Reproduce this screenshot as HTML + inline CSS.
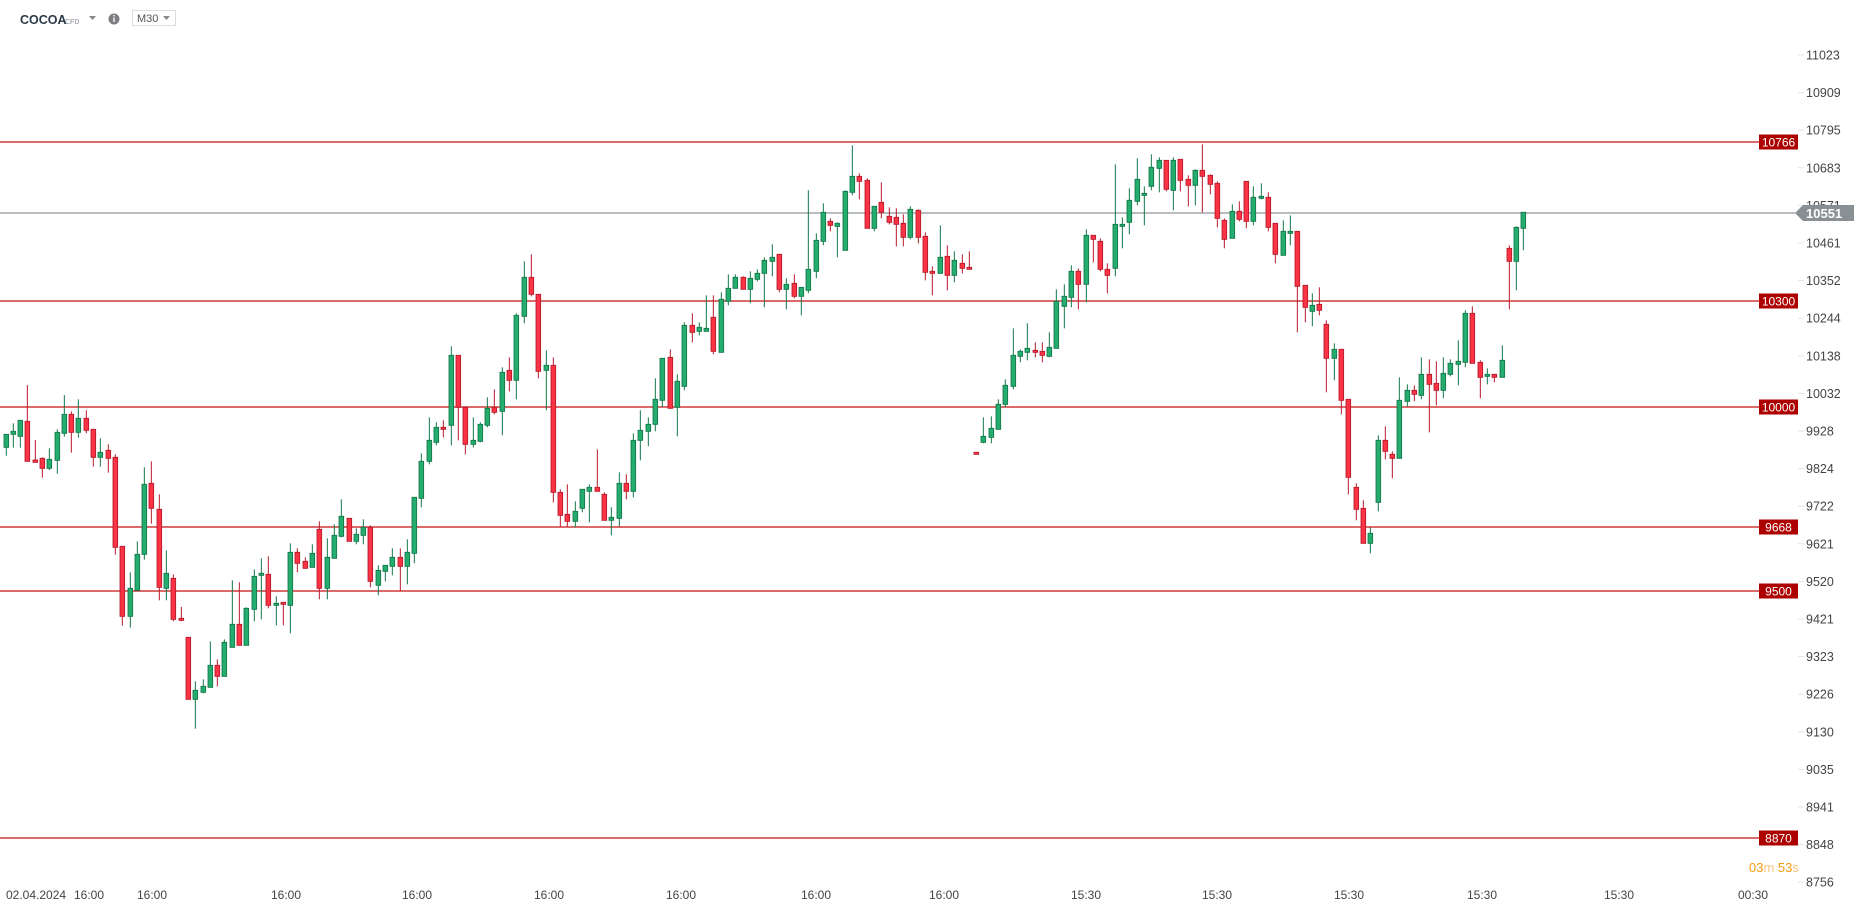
<!DOCTYPE html>
<html><head><meta charset="utf-8"><style>
html,body{margin:0;padding:0;background:#fff;overflow:hidden}
svg{display:block}
text{font-family:"Liberation Sans",sans-serif}
</style></head><body>
<svg id="s" width="1866" height="909" xmlns="http://www.w3.org/2000/svg">
<text x="20" y="24" font-size="12.5" font-weight="bold" fill="#2b3a48">COCOA</text>
<text x="65" y="24" font-size="7" fill="#8a9099">CFD</text>
<path d="M89 16h7l-3.5 4z" fill="#888"/>
<circle cx="114" cy="19" r="5.5" fill="#7d7f82"/>
<rect x="113.3" y="17.5" width="1.4" height="4.5" fill="#fff"/><rect x="113.3" y="15" width="1.4" height="1.4" fill="#fff"/>
<rect x="132.5" y="10.5" width="43" height="15" fill="#fff" stroke="#ddd"/>
<text x="137" y="22" font-size="11" fill="#555">M30</text>
<path d="M163 16h7l-3.5 4z" fill="#888"/>
<g id="ax"></g>
<g id="lines"></g>
<g id="c"></g>
<g id="lbl"></g>
<g font-size="12" fill="#444">
<text x="6" y="899">02.04.2024</text><text x="74" y="899">16:00</text>
<text x="152" y="899" text-anchor="middle">16:00</text>
<text x="286" y="899" text-anchor="middle">16:00</text>
<text x="417" y="899" text-anchor="middle">16:00</text>
<text x="549" y="899" text-anchor="middle">16:00</text>
<text x="681" y="899" text-anchor="middle">16:00</text>
<text x="816" y="899" text-anchor="middle">16:00</text>
<text x="944" y="899" text-anchor="middle">16:00</text>
<text x="1086" y="899" text-anchor="middle">15:30</text>
<text x="1217" y="899" text-anchor="middle">15:30</text>
<text x="1349" y="899" text-anchor="middle">15:30</text>
<text x="1482" y="899" text-anchor="middle">15:30</text>
<text x="1619" y="899" text-anchor="middle">15:30</text>
<text x="1753" y="899" text-anchor="middle">00:30</text>
</g>
<text x="1749" y="872" font-size="13" fill="#f39c12">03<tspan fill="#f7c27a">m</tspan> 53<tspan fill="#f7c27a">s</tspan></text>
</svg>
<script>
var NS="http://www.w3.org/2000/svg";
function el(p,t,a){var e=document.createElementNS(NS,t);for(var k in a)e.setAttribute(k,a[k]);p.appendChild(e);return e;}
var ax=document.getElementById('ax');
var vals=[11023,10909,10795,10683,10571,10461,10352,10244,10138,10032,9928,9824,9722,9621,9520,9421,9323,9226,9130,9035,8941,8848,8756];
vals.forEach(function(v,i){var y=55+i*37.6;el(ax,'line',{x1:1798,x2:1804,y1:y,y2:y,stroke:'#e3e3e3'});var t=el(ax,'text',{x:1806,y:y+4.5,'font-size':12.5,fill:'#444'});t.textContent=v;});
var L=document.getElementById('lines'),B=document.getElementById('lbl');
[[142,'10766'],[301,'10300'],[407,'10000'],[527,'9668'],[591,'9500'],[838,'8870']].forEach(function(a){
el(L,'line',{x1:0,x2:1760,y1:a[0],y2:a[0],stroke:'#c81010','stroke-width':1.2});
el(B,'rect',{x:1759,y:a[0]-7.5,width:39,height:15,fill:'#ad0000'});
var t=el(B,'text',{x:1778.5,y:a[0]+4.5,'font-size':12,fill:'#fff','text-anchor':'middle'});t.textContent=a[1];});
el(L,'line',{x1:0,x2:1795,y1:213,y2:213,stroke:'#8c9396','stroke-width':1.2});
el(B,'path',{d:'M1795 213l8-8h51v16h-51z',fill:'#889094'});
var t=el(B,'text',{x:1806,y:218,'font-size':13,fill:'#fff','font-weight':'bold'});t.textContent='10551';
var Z=[
[0,360,[[19,223,223,262,287,'g'],[40,190,214,223,263,'g'],[61,181,181,229,263,'g'],[82,75,184,304,304,'r'],[106,240,300,307,307,'r'],[127,292,295,325,353,'r'],[148,265,298,325,330,'g'],[172,208,217,301,341,'g'],[193,105,163,220,230,'g'],[214,154,163,217,278,'r'],[235,118,175,217,233,'g'],[259,151,175,211,220,'r'],[280,208,208,292,320,'r'],[301,235,277,292,320,'g'],[325,253,271,295,338,'r'],[346,283,292,562,584,'r'],[367,559,559,769,797,'r'],[391,637,685,769,803,'g'],[412,544,583,691,691,'g'],[433,322,373,583,599,'g'],[454,304,370,445,491,'r'],[478,403,448,682,721,'r'],[499,571,640,685,721,'g'],[520,643,655,778,784,'r'],[544,741,775,781,784,'r'],[565,832,832,1018,1018,'r'],[586,964,991,1018,1106,'g'],[610,958,979,997,1000,'g'],[631,844,916,982,982,'g'],[652,898,916,949,979,'r'],[673,838,847,949,949,'g'],[697,661,793,862,862,'g'],[718,667,793,856,856,'r'],[739,742,745,856,856,'g'],[763,628,649,748,784,'g'],[784,595,640,646,778,'g'],[805,589,643,736,745,'r'],[829,709,730,736,796,'g'],[850,727,727,733,796,'r'],[871,550,577,736,820,'g'],[892,565,577,610,637,'r']]],
[290,240,[[46,952,964,985,985,'r'],[67,913,940,982,982,'g'],[88,844,868,1045,1078,'r'],[112,895,952,1045,1078,'g'],[133,853,886,955,955,'g'],[154,778,829,889,892,'g'],[178,835,835,904,904,'r'],[199,865,883,904,913,'g'],[220,838,862,886,913,'g'],[241,856,862,1024,1042,'r'],[265,976,991,1036,1066,'g'],[286,976,976,994,1024,'g'],[307,925,952,979,1006,'g'],[331,925,952,979,1054,'r'],[352,898,937,979,1033,'g'],[373,772,772,940,970,'g'],[394,640,664,775,802,'g'],[418,532,601,664,673,'g'],[439,547,562,607,616,'g'],[460,541,562,568,592,'r'],[484,319,346,556,616,'g'],[505,346,346,502,601,'r'],[526,502,502,613,643,'r'],[550,532,601,613,622,'g'],[571,547,553,604,607,'g'],[592,472,505,556,562,'g'],[613,448,502,517,523,'r'],[637,382,397,514,586,'g'],[658,352,391,421,454,'r'],[679,220,226,421,478,'g'],[703,64,112,229,250,'g'],[724,43,112,163,169,'r'],[745,163,163,394,415,'r'],[769,331,376,391,511,'g'],[790,352,376,757,787,'r'],[811,748,757,826,859,'r'],[832,733,823,844,862,'r'],[856,784,814,844,862,'g']]],
[580,130,[[7,1078,1078,1135,1147,'g'],[28,1063,1072,1084,1177,'g'],[52,958,1072,1084,1084,'r'],[73,1087,1093,1171,1171,'r'],[94,1132,1162,1171,1216,'g'],[118,1027,1060,1165,1189,'g'],[139,1033,1060,1084,1108,'r'],[160,910,931,1084,1102,'g'],[181,841,901,931,991,'g'],[205,862,883,904,949,'g'],[226,745,808,883,904,'g'],[247,685,685,811,832,'g'],[271,658,682,835,835,'r'],[292,733,754,832,919,'g'],[313,577,586,769,781,'g'],[337,550,586,607,637,'r'],[358,577,592,604,616,'g'],[379,496,595,604,604,'g'],[400,496,562,664,673,'r'],[424,487,508,667,667,'g'],[445,433,475,514,526,'g'],[466,433,442,475,475,'g'],[490,439,442,478,478,'r'],[511,424,445,478,520,'g'],[532,418,430,448,454,'g'],[553,382,391,430,532,'g'],[577,343,382,394,439,'g'],[598,373,373,478,487,'r'],[619,445,463,478,538,'g'],[643,433,460,499,505,'r'],[664,472,472,499,556,'g'],[685,181,418,481,490,'g'],[709,310,331,424,445,'g'],[730,220,247,334,346,'g'],[751,265,274,286,304,'r'],[772,277,280,289,382,'g'],[796,181,184,361,361,'g'],[817,46,139,187,196,'g'],[838,130,139,154,208,'r'],[862,145,151,295,295,'r']]],
[870,130,[[13,229,229,295,304,'g'],[34,157,217,247,265,'r'],[58,232,259,277,283,'r'],[79,235,262,283,349,'r'],[100,253,280,322,349,'r'],[121,229,238,322,328,'g'],[145,238,241,322,340,'r'],[166,307,319,427,451,'r'],[187,409,424,430,496,'r'],[211,286,382,430,430,'g'],[232,346,379,436,481,'r'],[253,364,391,436,457,'g'],[277,373,400,415,430,'r'],[298,364,412,418,418,'r'],[319,967,967,973,973,'r'],[340,862,919,937,940,'g'],[364,859,895,922,940,'g'],[385,808,823,898,898,'g'],[406,748,766,823,832,'g'],[430,595,676,769,778,'g'],[451,658,664,679,697,'g'],[472,580,655,667,691,'g'],[496,637,661,667,682,'r'],[517,637,664,676,697,'r'],[538,607,652,679,682,'g'],[559,478,514,655,655,'g'],[583,463,499,529,595,'g'],[604,406,424,502,532,'g'],[625,415,424,463,538,'r'],[649,298,316,463,517,'g'],[670,316,316,328,397,'r'],[691,325,334,418,424,'r'],[712,400,418,436,490,'r'],[736,103,283,415,439,'g'],[757,262,283,289,355,'g'],[778,175,211,277,313,'g'],[802,85,148,214,226,'g'],[823,169,190,196,286,'g'],[844,73,112,169,181,'g'],[868,82,91,115,187,'g']]],
[1160,130,[[19,91,91,178,184,'r'],[40,82,91,181,241,'g'],[61,88,88,151,184,'r'],[85,136,148,166,229,'r'],[106,118,121,166,226,'g'],[127,43,121,139,247,'r'],[151,133,136,163,193,'r'],[172,154,160,265,292,'r'],[193,265,271,328,355,'r'],[217,223,244,325,325,'g'],[238,214,244,268,274,'r'],[259,154,154,274,295,'r'],[280,169,202,274,286,'g'],[304,160,199,205,208,'g'],[325,187,202,292,304,'r'],[346,280,280,373,400,'r'],[370,271,304,376,376,'g'],[391,256,304,310,346,'g'],[412,304,304,469,607,'r'],[436,466,466,532,577,'r'],[457,490,526,544,589,'g'],[478,472,523,541,556,'r'],[499,571,583,685,787,'r'],[523,640,658,685,751,'g'],[544,658,658,811,853,'r'],[565,808,808,1042,1093,'r'],[589,1060,1072,1138,1171,'r'],[610,1111,1135,1240,1240,'r'],[631,1192,1210,1240,1270,'g'],[655,916,931,1117,1144,'g'],[676,889,931,964,988,'r'],[697,964,973,985,1045,'r'],[718,742,811,985,985,'g'],[742,763,781,814,829,'g'],[763,766,781,793,814,'r'],[784,682,733,796,808,'g'],[808,688,733,763,907,'r'],[829,694,760,781,826,'r'],[850,682,730,781,805,'g'],[871,688,700,733,739,'g'],[895,631,694,703,766,'g']]],
[1330,190,[[406,361,370,517,532,'g'],[427,349,370,520,520,'r'],[451,511,517,562,625,'r'],[472,535,553,559,583,'g'],[493,553,553,562,577,'r'],[517,466,511,562,562,'g'],[538,166,175,214,358,'r'],[559,109,112,214,301,'g'],[580,67,67,115,181,'g']]]
];
var C=document.getElementById('c');
Z.forEach(function(z){var ox=z[0],oy=z[1];z[2].forEach(function(d){
var x=ox+d[0]/3,hi=oy+d[1]/3,top=oy+d[2]/3,bot=oy+d[3]/3,lo=oy+d[4]/3;
var g=d[5]=='g',f=g?'#25ad6f':'#fb3344',s=g?'#13784a':'#b81a2b';
el(C,'line',{x1:x,x2:x,y1:hi,y2:lo,stroke:s,'stroke-width':1});
var h=Math.max(bot-top,1.5);
el(C,'rect',{x:x-2.3,y:top,width:4.6,height:h,fill:f,stroke:s,'stroke-width':0.9});
});});
</script>
</body></html>
